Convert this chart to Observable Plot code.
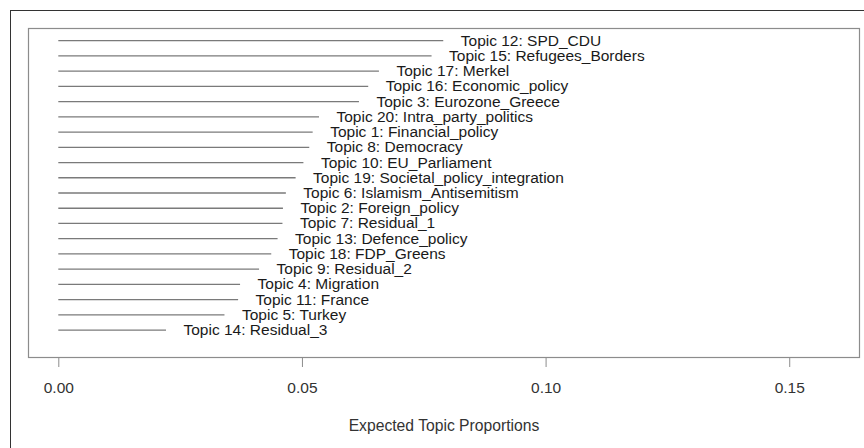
<!DOCTYPE html>
<html>
<head>
<meta charset="utf-8">
<script src="https://cdn.jsdelivr.net/npm/d3@7"></script>
<script src="https://cdn.jsdelivr.net/npm/@observablehq/plot@0.6"></script>
<style>
  html, body { margin: 0; padding: 0; background: #fff; overflow: hidden; }
  #wrap { position: relative; width: 864px; height: 448px; overflow: hidden; }
  #outer { position: absolute; left: 10px; top: 10px; width: 900px; height: 500px;
           border: 1.5px solid #333; box-sizing: border-box; pointer-events: none; }
</style>
</head>
<body>
<div id="wrap"><div id="outer"></div></div>
<script>
// Topics, top to bottom
const topicNumbers = [12, 15, 17, 16, 3, 20, 1, 8, 10, 19, 6, 2, 7, 13, 18, 9, 4, 11, 5, 14];
const topicNames = ["SPD_CDU", "Refugees_Borders", "Merkel", "Economic_policy", "Eurozone_Greece",
  "Intra_party_politics", "Financial_policy", "Democracy", "EU_Parliament", "Societal_policy_integration",
  "Islamism_Antisemitism", "Foreign_policy", "Residual_1", "Defence_policy", "FDP_Greens",
  "Residual_2", "Migration", "France", "Turkey", "Residual_3"];
const proportions = [0.0790, 0.0766, 0.0658, 0.0636, 0.0617, 0.0535, 0.0522, 0.0515, 0.0503, 0.0487,
  0.0467, 0.0461, 0.0460, 0.0450, 0.0437, 0.0412, 0.0373, 0.0369, 0.0341, 0.0221];
const xTicks = [0, 0.05, 0.10, 0.15];
const xTitle = "Expected Topic Proportions";

const n = topicNumbers.length;
const data = topicNumbers.map((t, i) => ({
  label: `Topic ${t}: ${topicNames[i]}`,
  p: proportions[i],
  rank: n - i
}));

const chart = Plot.plot({
  width: 864,
  height: 448,
  marginLeft: 28,
  marginRight: 5,
  marginTop: 28,
  marginBottom: 91,
  style: { fontFamily: "'Liberation Sans', Arial, sans-serif", fontSize: "15.5px", background: "transparent" },
  x: { domain: [-0.00622, 0.16432] },
  y: { domain: [-0.8, n + 0.8], axis: null },
  marks: [
    Plot.frame({ stroke: "#8c8c8c", strokeWidth: 1.2 }),
    Plot.ruleY(data, { x1: 0, x2: "p", y: "rank", stroke: "#7a7a7a", strokeWidth: 1.3 }),
    Plot.text(data, { x: "p", y: "rank", text: "label", textAnchor: "start", dx: 17,
      fill: "#1a1a1a", fontSize: 15.5 }),
    Plot.axisX({ ticks: xTicks, tickFormat: d3.format(".2f"), tickSize: 10, tickPadding: 14,
      stroke: "#8c8c8c", fill: "#333", fontSize: 15.5, label: null }),
    Plot.text([xTitle], { frameAnchor: "bottom", dy: 68, lineAnchor: "middle", fill: "#333", fontSize: 15.7 })
  ]
});
document.getElementById("wrap").insertBefore(chart, document.getElementById("outer"));
</script>
</body>
</html>
